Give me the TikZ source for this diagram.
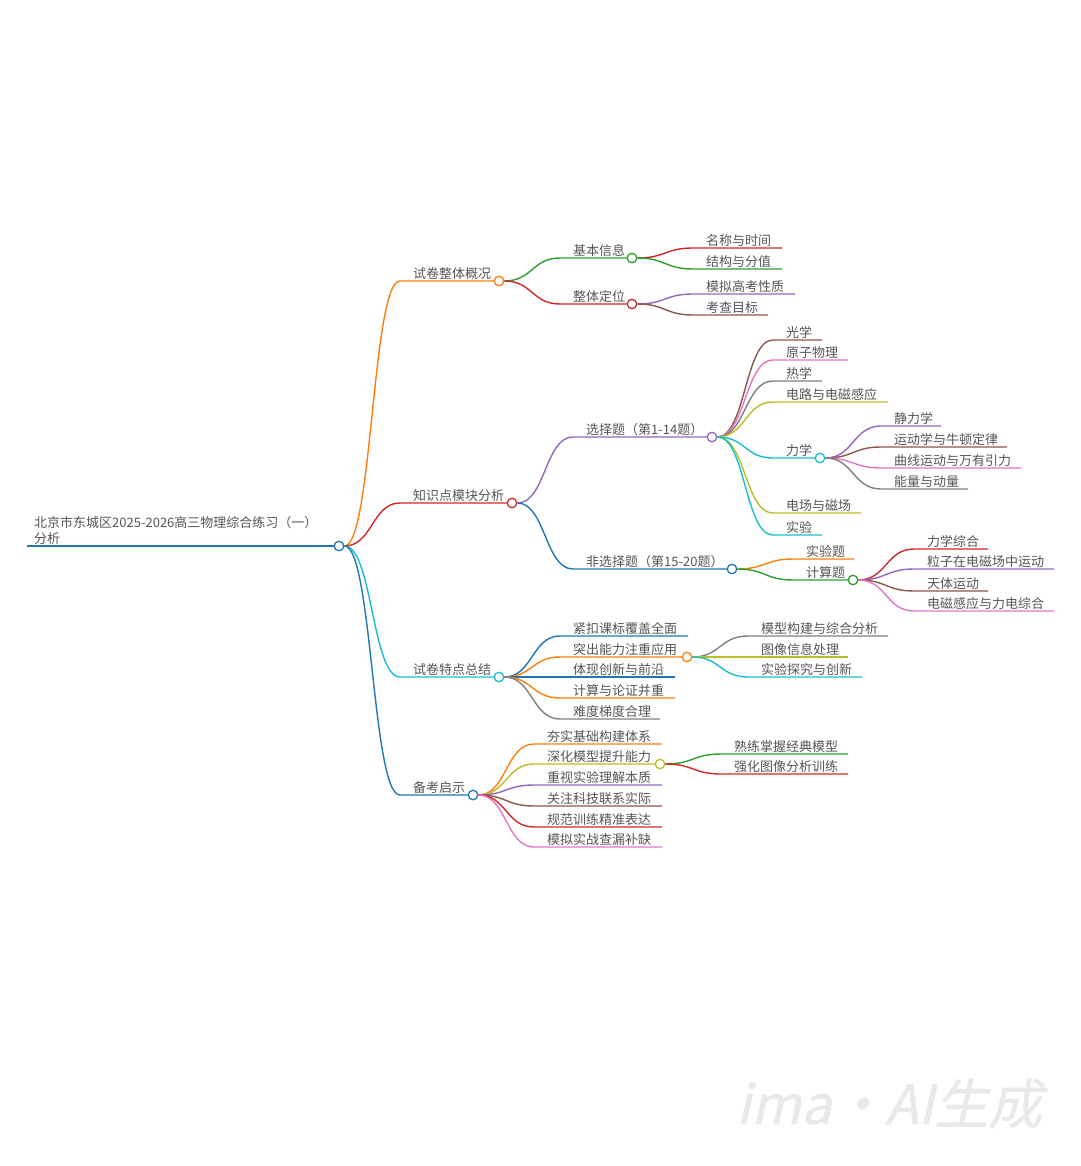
\documentclass[tikz,border=0pt]{standalone}
\usepackage{fontspec}
\newfontfamily\cjk{Noto Sans CJK SC}
\newfontfamily\wmfont[FakeSlant=0.22,FakeBold=1.2]{Noto Sans CJK SC}
\definecolor{cOr}{RGB}{255,127,14}
\definecolor{cRe}{RGB}{214,39,40}
\definecolor{cCy}{RGB}{23,190,207}
\definecolor{cBl}{RGB}{31,119,180}
\definecolor{cGr}{RGB}{44,160,44}
\definecolor{cPu}{RGB}{148,103,189}
\definecolor{cBr}{RGB}{140,86,75}
\definecolor{cPi}{RGB}{227,119,194}
\definecolor{cGy}{RGB}{127,127,127}
\definecolor{cOl}{RGB}{188,189,34}
\definecolor{txt}{RGB}{85,85,85}
\definecolor{wm}{RGB}{233,233,233}
\tikzset{
  lbl/.style={font=\cjk\fontsize{13}{15}\selectfont, text=txt, inner sep=0pt, anchor=base west},
  br/.style={line width=1.4pt},
  dot/.style={circle, fill=white, line width=1.3pt, minimum size=9.5pt, inner sep=0pt}
}
% #1 parent circle, #2 name, #3 colour, #4 line start x, #5 y, #6 line end x, #7 text
\newcommand\mmbr[7]{%
  \coordinate (#2s) at (#4,#5);
  \coordinate (#2e) at (#6,#5);
  \node[lbl] (#2) at ({#4+13},{#5-3}) {#7};
  \draw[br,#3] (#1.east) .. controls +(28,0) and +(-28,0) .. (#2s) -- (#2e);
}
% #1 name, #2 colour, #3 position
\newcommand\mmdot[3]{\node[dot,draw=#2] (#1c) at #3 {};}
\begin{document}
\begin{tikzpicture}[x=1pt,y=-1pt]
\useasboundingbox (0,0) rectangle (1080,1166);
% root
\coordinate (rs) at (27,546);
\node[dot,draw=cBl] (R) at (339,546) {};
\draw[cBl,line width=1.8pt] (rs) -- (R.west);
\node[lbl] (root) at (34,527) {北京市东城区2025-2026高三物理综合练习（一）};
\node[lbl] (root2) at (34,543) {分析};
% level 1
\mmbr{R}{a}{cOr}{400}{281}{494}{试卷整体概况}
\mmbr{R}{b}{cRe}{400}{503}{507}{知识点模块分析}
\mmbr{R}{c}{cCy}{400}{677}{494}{试卷特点总结}
\mmbr{R}{d}{cBl}{400}{795}{468}{备考启示}
\mmdot{a}{cOr}{(499,281)}
\mmdot{b}{cRe}{(512,503)}
\mmdot{c}{cCy}{(499,677)}
\mmdot{d}{cBl}{(473,795)}
% a
\mmbr{ac}{aa}{cGr}{560}{258}{627}{基本信息}
\mmbr{ac}{ab}{cRe}{560}{304}{627}{整体定位}
\mmdot{aa}{cGr}{(632,258)}
\mmdot{ab}{cRe}{(632,304)}
\mmbr{aac}{aaa}{cRe}{693}{248}{782}{名称与时间}
\mmbr{aac}{aab}{cGr}{693}{269}{782}{结构与分值}
\mmbr{abc}{aba}{cPu}{693}{294}{795}{模拟高考性质}
\mmbr{abc}{abb}{cBr}{693}{315}{768}{考查目标}
% b
\mmbr{bc}{ba}{cPu}{573}{437}{707}{选择题（第1-14题）}
\mmbr{bc}{bb}{cBl}{573}{569}{727}{非选择题（第15-20题）}
\mmdot{ba}{cPu}{(712,437)}
\mmdot{bb}{cBl}{(732,569)}
\mmbr{bac}{baa}{cBr}{773}{340}{822}{光学}
\mmbr{bac}{bab}{cPi}{773}{360}{848}{原子物理}
\mmbr{bac}{bad}{cGy}{773}{381}{822}{热学}
\mmbr{bac}{bae}{cOl}{773}{402}{888}{电路与电磁感应}
\mmbr{bac}{baf}{cCy}{773}{458}{815}{力学}
\mmbr{bac}{bag}{cOl}{773}{513}{861}{电场与磁场}
\mmbr{bac}{bah}{cCy}{773}{535}{822}{实验}
\mmdot{baf}{cCy}{(820,458)}
\mmbr{bafc}{bafa}{cPu}{881}{426}{941}{静力学}
\mmbr{bafc}{bafb}{cBr}{881}{447}{1007}{运动学与牛顿定律}
\mmbr{bafc}{bafd}{cPi}{881}{468}{1021}{曲线运动与万有引力}
\mmbr{bafc}{bafe}{cGy}{881}{489}{968}{能量与动量}
\mmbr{bbc}{bba}{cOr}{793}{559}{854}{实验题}
\mmbr{bbc}{bbb}{cGr}{793}{580}{848}{计算题}
\mmdot{bbb}{cGr}{(853,580)}
\mmbr{bbbc}{bbba}{cRe}{914}{549}{988}{力学综合}
\mmbr{bbbc}{bbbb}{cPu}{914}{569}{1054}{粒子在电磁场中运动}
\mmbr{bbbc}{bbbd}{cBr}{914}{591}{988}{天体运动}
\mmbr{bbbc}{bbbe}{cPi}{914}{611}{1054}{电磁感应与力电综合}
% c
\mmbr{cc}{ca}{cBl}{560}{636}{688}{紧扣课标覆盖全面}
\mmbr{cc}{cb}{cOr}{560}{657}{682}{突出能力注重应用}
\mmbr{cc}{cd}{cBl}{560}{677}{675}{体现创新与前沿}
\mmbr{cc}{ce}{cOr}{560}{698}{675}{计算与论证并重}
\mmbr{cc}{cf}{cGy}{560}{719}{660}{难度梯度合理}
\mmdot{cb}{cOr}{(687,657)}
\mmbr{cbc}{cba}{cGy}{748}{636}{888}{模型构建与综合分析}
\mmbr{cbc}{cbb}{cOl}{748}{657}{848}{图像信息处理}
\mmbr{cbc}{cbd}{cCy}{748}{677}{862}{实验探究与创新}
% d
\mmbr{dc}{da}{cOr}{534}{744}{662}{夯实基础构建体系}
\mmbr{dc}{db}{cOl}{534}{764}{655}{深化模型提升能力}
\mmbr{dc}{dd}{cPu}{534}{785}{662}{重视实验理解本质}
\mmbr{dc}{de}{cBr}{534}{806}{662}{关注科技联系实际}
\mmbr{dc}{df}{cRe}{534}{827}{662}{规范训练精准表达}
\mmbr{dc}{dg}{cPi}{534}{847}{662}{模拟实战查漏补缺}
\mmdot{db}{cOl}{(660,764)}
\mmbr{dbc}{dba}{cGr}{721}{754}{848}{熟练掌握经典模型}
\mmbr{dbc}{dbb}{cRe}{721}{774}{848}{强化图像分析训练}
% watermark
\node[font=\wmfont\fontsize{54}{60}\selectfont, text=wm, inner sep=0pt, anchor=base west] (wmk) at (736,1124) {ima·AI生成};
\end{tikzpicture}
\end{document}
